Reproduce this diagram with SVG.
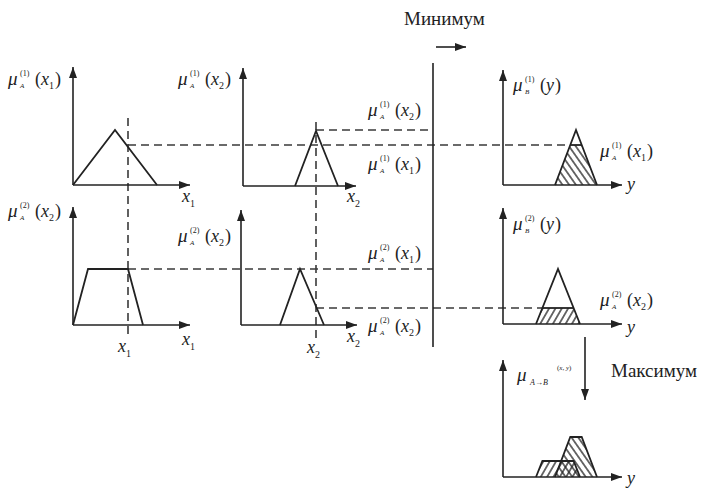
<svg xmlns="http://www.w3.org/2000/svg" width="701" height="489" viewBox="0 0 701 489" font-family="'Liberation Serif','Times New Roman','DejaVu Serif',serif">
<style>
text{font-family:'Liberation Serif','Times New Roman','DejaVu Serif',serif;fill:#222}
.mu{font-size:19px;font-style:italic}
.sp{font-size:8px}
.sb{font-size:7px;font-style:italic}
.pr{font-size:18px}
.vr{font-size:18px;font-style:italic}
.ix{font-size:10px}
.word{font-size:19px}
.ax{stroke:#222;stroke-width:1.6;fill:none}
.sh{stroke:#222;stroke-width:1.8;fill:none;stroke-linejoin:miter}
.ds{stroke:#3a3a3a;stroke-width:1.6;stroke-dasharray:8 5;fill:none}
</style>
<defs>
<marker id="ah" markerUnits="userSpaceOnUse" markerWidth="12" markerHeight="9" refX="11" refY="4" orient="auto">
<path d="M0,0 L11,4 L0,8 z" fill="#222"/>
</marker>
<pattern id="hb" width="5.5" height="10" patternUnits="userSpaceOnUse" patternTransform="rotate(-35)">
<line x1="2.75" y1="-1" x2="2.75" y2="11" stroke="#222" stroke-width="1.3"/>
</pattern>
<pattern id="hf" width="5.5" height="10" patternUnits="userSpaceOnUse" patternTransform="rotate(30)">
<line x1="2.75" y1="-1" x2="2.75" y2="11" stroke="#222" stroke-width="1.3"/>
</pattern>
</defs>

<!-- connectors: dashed projection lines, separator and operation arrows -->
<g id="connectors">
<line class="ds" x1="128" y1="118" x2="128" y2="338"/>
<line class="ds" x1="316" y1="122" x2="316" y2="340"/>
<line class="ds" x1="128" y1="145" x2="570" y2="145"/>
<line class="ds" x1="316" y1="130" x2="433" y2="130"/>
<line class="ds" x1="128" y1="269" x2="433" y2="269"/>
<line class="ds" x1="316" y1="308" x2="542" y2="308"/>
<line class="ax" x1="433" y1="63" x2="433" y2="347"/>
<line class="ax" x1="436" y1="47" x2="466" y2="47" marker-end="url(#ah)"/>
<line class="ax" x1="585" y1="337" x2="585" y2="400" marker-end="url(#ah)"/>
<text class="word" x="404" y="25">Минимум</text>
<text class="word" x="611" y="377">Максимум</text>
</g>

<!-- panel 1: mu_A^(1)(x1) -->
<g id="p1">
<line class="ax" x1="73" y1="185" x2="73" y2="67" marker-end="url(#ah)"/>
<line class="ax" x1="73" y1="185" x2="190" y2="185" marker-end="url(#ah)"/>
<polyline class="sh" points="73,185 115,130 157,185"/>
<g transform="translate(8,85)">
<text class="mu" x="0" y="0">μ</text><text class="sp" x="12" y="-9">(1)</text><text class="sb" x="12" y="3">A</text>
<text class="pr" x="27" y="0">(</text><text class="vr" x="33" y="0">x</text><text class="ix" x="41" y="4">1</text><text class="pr" x="47" y="0">)</text>
</g>
<text class="vr" x="182" y="202">x</text><text class="ix" x="190" y="207">1</text>
</g>

<!-- panel 2: mu_A^(1)(x2) -->
<g id="p2">
<line class="ax" x1="243" y1="186" x2="243" y2="68" marker-end="url(#ah)"/>
<line class="ax" x1="243" y1="186" x2="356" y2="186" marker-end="url(#ah)"/>
<polyline class="sh" points="295,186 316,131 338,186"/>
<g transform="translate(178,85)">
<text class="mu" x="0" y="0">μ</text><text class="sp" x="12" y="-9">(1)</text><text class="sb" x="12" y="3">A</text>
<text class="pr" x="27" y="0">(</text><text class="vr" x="33" y="0">x</text><text class="ix" x="41" y="4">2</text><text class="pr" x="47" y="0">)</text>
</g>
<g transform="translate(368,116)">
<text class="mu" x="0" y="0">μ</text><text class="sp" x="12" y="-9">(1)</text><text class="sb" x="12" y="3">A</text>
<text class="pr" x="27" y="0">(</text><text class="vr" x="33" y="0">x</text><text class="ix" x="41" y="4">2</text><text class="pr" x="47" y="0">)</text>
</g>
<g transform="translate(368,170)">
<text class="mu" x="0" y="0">μ</text><text class="sp" x="12" y="-9">(1)</text><text class="sb" x="12" y="3">A</text>
<text class="pr" x="27" y="0">(</text><text class="vr" x="33" y="0">x</text><text class="ix" x="41" y="4">1</text><text class="pr" x="47" y="0">)</text>
</g>
<text class="vr" x="347" y="202">x</text><text class="ix" x="355" y="207">2</text>
</g>

<!-- panel 3: mu_B^(1)(y) -->
<g id="p3">
<line class="ax" x1="503" y1="185" x2="503" y2="70" marker-end="url(#ah)"/>
<line class="ax" x1="503" y1="185" x2="622" y2="185" marker-end="url(#ah)"/>
<polygon points="555,185 570.3,145 581.7,145 597,185" fill="url(#hb)"/>
<polyline class="sh" points="555,185 576,130 597,185"/>
<line class="sh" x1="570.3" y1="145" x2="581.7" y2="145"/>
<g transform="translate(513,91)">
<text class="mu" x="0" y="0">μ</text><text class="sp" x="12" y="-9">(1)</text><text class="sb" x="12" y="3">B</text>
<text class="pr" x="27" y="0">(</text><text class="vr" x="33" y="0">y</text><text class="pr" x="42" y="0">)</text>
</g>
<g transform="translate(600,157)">
<text class="mu" x="0" y="0">μ</text><text class="sp" x="12" y="-9">(1)</text><text class="sb" x="12" y="3">A</text>
<text class="pr" x="27" y="0">(</text><text class="vr" x="33" y="0">x</text><text class="ix" x="41" y="4">1</text><text class="pr" x="47" y="0">)</text>
</g>
<text class="vr" x="627" y="190">y</text>
</g>

<!-- panel 4: mu_A^(2)(x1) -->
<g id="p4">
<line class="ax" x1="73" y1="325" x2="73" y2="207" marker-end="url(#ah)"/>
<line class="ax" x1="73" y1="325" x2="190" y2="325" marker-end="url(#ah)"/>
<polyline class="sh" points="73,325 88,269 128,269 143,325"/>
<g transform="translate(8,217)">
<text class="mu" x="0" y="0">μ</text><text class="sp" x="12" y="-9">(2)</text><text class="sb" x="12" y="3">A</text>
<text class="pr" x="27" y="0">(</text><text class="vr" x="33" y="0">x</text><text class="ix" x="41" y="4">2</text><text class="pr" x="47" y="0">)</text>
</g>
<text class="vr" x="182" y="345">x</text><text class="ix" x="190" y="350">1</text>
<text class="vr" x="118" y="352">x</text><text class="ix" x="126" y="357">1</text>
</g>

<!-- panel 5: mu_A^(2)(x2) -->
<g id="p5">
<line class="ax" x1="241" y1="325" x2="241" y2="210" marker-end="url(#ah)"/>
<line class="ax" x1="241" y1="325" x2="357" y2="325" marker-end="url(#ah)"/>
<polyline class="sh" points="280,325 300,269 324,325"/>
<g transform="translate(178,242)">
<text class="mu" x="0" y="0">μ</text><text class="sp" x="12" y="-9">(2)</text><text class="sb" x="12" y="3">A</text>
<text class="pr" x="27" y="0">(</text><text class="vr" x="33" y="0">x</text><text class="ix" x="41" y="4">2</text><text class="pr" x="47" y="0">)</text>
</g>
<g transform="translate(368,259)">
<text class="mu" x="0" y="0">μ</text><text class="sp" x="12" y="-9">(2)</text><text class="sb" x="12" y="3">A</text>
<text class="pr" x="27" y="0">(</text><text class="vr" x="33" y="0">x</text><text class="ix" x="41" y="4">1</text><text class="pr" x="47" y="0">)</text>
</g>
<g transform="translate(368,332)">
<text class="mu" x="0" y="0">μ</text><text class="sp" x="12" y="-9">(2)</text><text class="sb" x="12" y="3">A</text>
<text class="pr" x="27" y="0">(</text><text class="vr" x="33" y="0">x</text><text class="ix" x="41" y="4">2</text><text class="pr" x="47" y="0">)</text>
</g>
<text class="vr" x="347" y="342">x</text><text class="ix" x="355" y="347">2</text>
<text class="vr" x="307" y="353">x</text><text class="ix" x="315" y="358">2</text>
</g>

<!-- panel 6: mu_B^(2)(y) -->
<g id="p6">
<line class="ax" x1="503" y1="324" x2="503" y2="208" marker-end="url(#ah)"/>
<line class="ax" x1="503" y1="324" x2="622" y2="324" marker-end="url(#ah)"/>
<polygon points="536,324 542.4,308 573.6,308 580,324" fill="url(#hf)"/>
<polyline class="sh" points="536,324 558,269 580,324"/>
<line class="sh" x1="542.4" y1="308" x2="573.6" y2="308"/>
<g transform="translate(513,230)">
<text class="mu" x="0" y="0">μ</text><text class="sp" x="12" y="-9">(2)</text><text class="sb" x="12" y="3">B</text>
<text class="pr" x="27" y="0">(</text><text class="vr" x="33" y="0">y</text><text class="pr" x="42" y="0">)</text>
</g>
<g transform="translate(600,306)">
<text class="mu" x="0" y="0">μ</text><text class="sp" x="12" y="-9">(2)</text><text class="sb" x="12" y="3">A</text>
<text class="pr" x="27" y="0">(</text><text class="vr" x="33" y="0">x</text><text class="ix" x="41" y="4">2</text><text class="pr" x="47" y="0">)</text>
</g>
<text class="vr" x="627" y="333">y</text>
</g>

<!-- panel 7: mu_{A->B}^{(x,y)} -->
<g id="p7">
<line class="ax" x1="503" y1="477" x2="503" y2="360" marker-end="url(#ah)"/>
<line class="ax" x1="503" y1="477" x2="622" y2="477" marker-end="url(#ah)"/>
<polygon points="536,477 542.4,461 573.6,461 580,477" fill="url(#hf)"/>
<polygon points="555,477 570.3,437 581.7,437 597,477" fill="url(#hb)"/>
<polyline class="sh" points="536,477 542.4,461 573.6,461 580,477"/>
<polyline class="sh" points="555,477 570.3,437 581.7,437 597,477"/>
<text class="mu" x="517" y="381">μ</text>
<text class="sb" x="530" y="385" style="font-size:8px">A→B</text>
<text class="sp" x="557" y="370" style="font-size:7px">(<tspan font-style="italic">x</tspan>, <tspan font-style="italic">y</tspan>)</text>
<text class="vr" x="627" y="484">y</text>
</g>
</svg>
